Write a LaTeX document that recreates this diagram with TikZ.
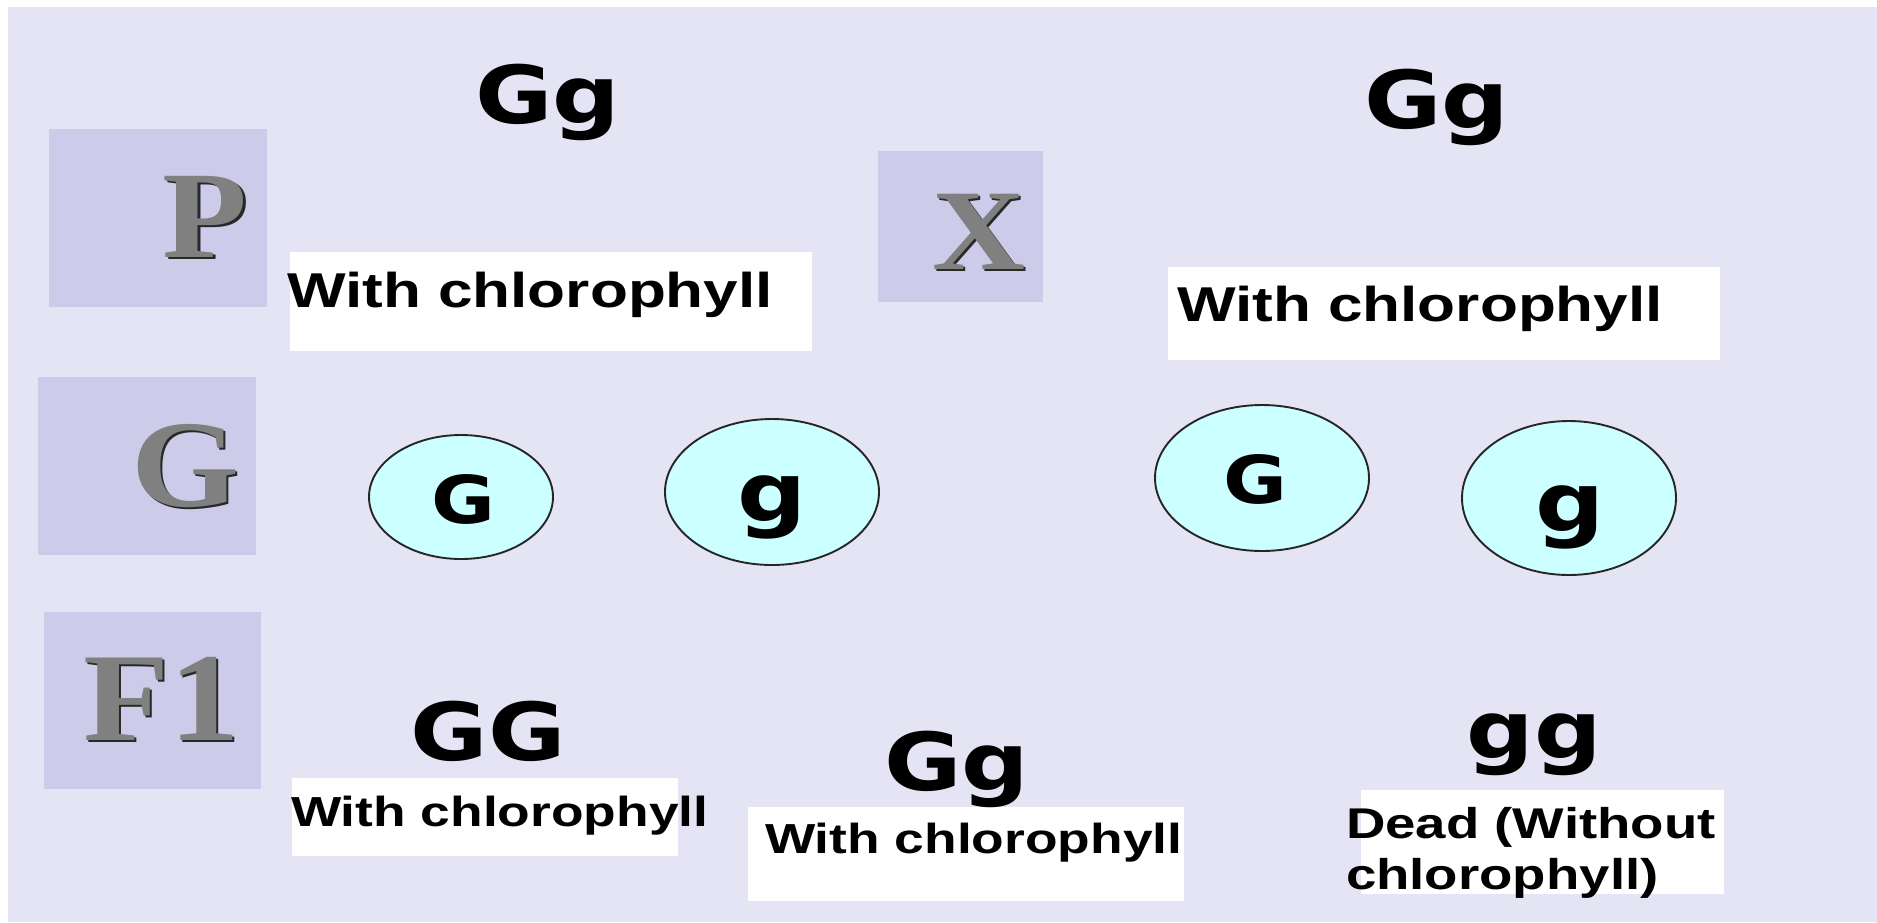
\documentclass[tikz,border=0pt]{standalone}
\usepackage{fontspec}
\usetikzlibrary{shapes.geometric}

% Fonts: wide bold sans for notes and genotypes, bold serif for row tags
\newfontfamily\notefont{Liberation Sans}[FakeStretch=1.27]
\newfontfamily\genofont{DejaVu Sans}[FakeStretch=1.18]
\newfontfamily\tagfont{Liberation Serif}[FakeStretch=1.12]

\definecolor{pagebg}{RGB}{228,228,244}
\definecolor{tagbg}{RGB}{204,204,234}
\definecolor{cellfill}{RGB}{204,255,255}
\definecolor{tagtext}{RGB}{128,128,128}
\definecolor{tagshade}{RGB}{40,40,40}

\begin{document}
\begin{tikzpicture}[x=1pt,y=-1pt,
  every node/.style={inner sep=0pt, outer sep=0pt},
  tagbox/.style={fill=tagbg, draw=none, anchor=north west},
  notebox/.style={fill=white, draw=none, anchor=north west},
  gamete/.style={ellipse, draw=black!85, line width=1.9pt, fill=cellfill},
  tagletter/.style={anchor=base, text=tagtext, font=\tagfont\bfseries\fontsize{124}{124}\selectfont},
  tagshadow/.style={anchor=base, text=tagshade, font=\tagfont\bfseries\fontsize{124}{124}\selectfont},
  genotype/.style={anchor=base, text=black, font=\genofont\bfseries\fontsize{80}{80}\selectfont},
  allele/.style={anchor=base, text=black, font=\genofont\bfseries\fontsize{#1}{#1}\selectfont},
  notebig/.style={anchor=base west, text=black, font=\notefont\bfseries\fontsize{48.9}{52}\selectfont},
  notesmall/.style={anchor=base west, text=black, font=\notefont\bfseries\fontsize{42}{47}\selectfont}
]
\useasboundingbox (0,0) rectangle (1877,922);

% page background with its thin white margin at top and left
\fill[white] (0,0) rectangle (1877,922);
\fill[pagebg] (8,7) rectangle (1877,922);

% row tags
\node[tagbox, minimum width=218pt, minimum height=178pt] (pTag) at (49,129) {};
\node[tagbox, minimum width=165pt, minimum height=151pt] (xTag) at (878,151) {};
\node[tagbox, minimum width=218pt, minimum height=178pt] (gTag) at (38,377) {};
\node[tagbox, minimum width=217pt, minimum height=177pt] (fTag) at (44,612) {};

\node[tagshadow] (pShade) at (207.5,259.5) {P};
\node[tagletter] (pLetter) at (205,257) {P};
\node[tagshadow, font=\tagfont\bfseries\fontsize{115}{115}\selectfont] (xShade) at (981,271.5) {X};
\node[tagletter, font=\tagfont\bfseries\fontsize{115}{115}\selectfont] (xLetter) at (978.5,269) {X};
\node[tagshadow] (gShade) at (188,508.5) {G};
\node[tagletter] (gLetter) at (185.5,506) {G};
\node[tagshadow, font=\tagfont\bfseries\fontsize{126}{126}\selectfont] (fShade) at (164,742.5) {F1};
\node[tagletter, font=\tagfont\bfseries\fontsize{126}{126}\selectfont] (fLetter) at (161.5,740) {F1};

% white note panels
\node[notebox, minimum width=522pt, minimum height=99pt] (nb1) at (290,252) {};
\node[notebox, minimum width=552pt, minimum height=93pt] (nb2) at (1168,267) {};
\node[notebox, minimum width=386pt, minimum height=78pt] (nb3) at (292,778) {};
\node[notebox, minimum width=436pt, minimum height=94pt] (nb4) at (748,807) {};
\node[notebox, minimum width=363pt, minimum height=104pt] (nb5) at (1361,790) {};

% parents
\node[genotype] (parentA) at (548,123) {Gg};
\node[genotype] (parentB) at (1437,128) {Gg};
\node[notebig] (noteA) at (287,307) {With chlorophyll};
\node[notebig] (noteB) at (1177,321) {With chlorophyll};

% gametes
\node[gamete, minimum width=184pt, minimum height=124pt] (gamA1) at (461,497) {};
\node[gamete, minimum width=214pt, minimum height=146pt] (gamA2) at (772,492) {};
\node[gamete, minimum width=214pt, minimum height=146pt] (gamB1) at (1262,478) {};
\node[gamete, minimum width=214pt, minimum height=154pt] (gamB2) at (1569,498) {};
\node[allele=66] (alA1) at (463,523) {G};
\node[allele=82] (alA2) at (772,521) {g};
\node[allele=66] (alB1) at (1255,503) {G};
\node[allele=82] (alB2) at (1570,531) {g};

% offspring
\node[genotype] (kidGG) at (488,760) {GG};
\node[genotype] (kidGg) at (957,790) {Gg};
\node[genotype] (kidgg) at (1534,758) {gg};
\node[notesmall] (noteGG) at (291,826) {With chlorophyll};
\node[notesmall] (noteGg) at (765,853) {With chlorophyll};
\node[notesmall, font=\notefont\bfseries\fontsize{43}{51}\selectfont, align=left, anchor=north west] (notegg) at (1346,807) {Dead (Without\\chlorophyll)};
\end{tikzpicture}
\end{document}
